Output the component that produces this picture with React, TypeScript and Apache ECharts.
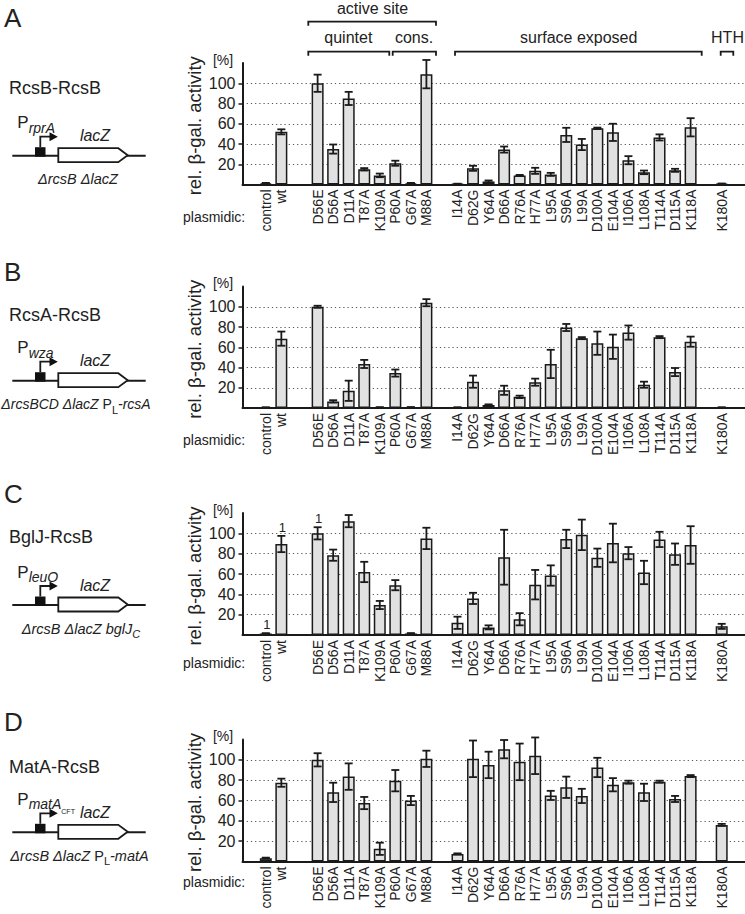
import React, { useEffect, useRef } from 'react';
import * as echarts from 'echarts';

// ---------- data ----------
const categories = ['control', 'wt', 'D56E', 'D56A', 'D11A', 'T87A', 'K109A', 'P60A', 'G67A', 'M88A',
  'I14A', 'D62G', 'Y64A', 'D66A', 'R76A', 'H77A', 'L95A', 'S96A', 'L99A', 'D100A', 'E104A', 'I106A',
  'L108A', 'T114A', 'D115A', 'K118A', 'K180A'];

const valuesA = [1.2, 52, 100, 35, 85, 15, 9, 21, 1.2, 109, 0.5, 16, 3, 34.5, 9, 13.5, 10, 49, 39.5, 55.5, 51.5, 24, 12, 46.5, 14, 56.5, 0.7];
const errorsA = [0.4, 2.5, 8.5, 4.5, 6.5, 1.2, 1.8, 2.5, 0.4, 14, 0.3, 2.5, 1, 3, 0.5, 3, 1.5, 7, 5.5, 0.7, 8.5, 4, 1.8, 3, 1.5, 9, 0.3];

const valuesB = [0.5, 68.5, 100, 6.5, 17, 43.5, 0.6, 34.5, 0.7, 104, 0.5, 26, 3, 17.5, 11, 25.5, 43.5, 79.5, 69, 64, 60.5, 74.5, 23, 70, 35.5, 65.5, 0.5];
const errorsB = [0.2, 7, 1, 1.2, 10, 4, 0.2, 3.5, 0.2, 3.5, 0.2, 6, 0.6, 4.5, 1.2, 3.5, 14, 3.5, 1, 11.5, 12, 7, 3, 1, 4, 5, 0.2];

const valuesC = [1.5, 89.5, 100, 78.5, 112, 62, 29.5, 49, 1.5, 95, 12, 36, 7.5, 76.5, 15.5, 49.5, 58.5, 94.5, 98.5, 76, 90.5, 80.5, 61.5, 94, 79.5, 88.5, 8.5];
const errorsC = [0.3, 8, 6, 5.5, 6, 10, 4, 5, 0.4, 10.5, 6, 5.5, 2, 27, 6, 14.5, 10, 9, 15, 9, 19, 6, 11.5, 7.5, 10.5, 18.5, 2.5];
const notesC: [string, string][] = [['control', '1'], ['wt', '1'], ['D56E', '1']];

const valuesD = [3.3, 77.5, 100, 68, 83.5, 57.5, 12.5, 79.5, 60, 101, 7.5, 101, 95, 110.5, 98, 104, 65, 73, 64.5, 92.5, 75.5, 78, 68, 78.5, 61.5, 84, 36];
const errorsD = [0.5, 4, 6.5, 9.5, 13, 6, 6, 10.5, 4.5, 8, 0.5, 18, 13, 9, 18, 18, 4.5, 10.5, 7, 9.5, 6.5, 1.5, 8.5, 1, 3, 1, 1];

const yTickValues = [20, 40, 60, 80, 100];

// ---------- layout ----------
const FONT = '"Liberation Sans", Arial, Helvetica, sans-serif';
const INK = '#1a1a1a';
const TXT = '#222';
const U = 15.625 / 3; // fine category unit (a third of a bar slot)
const LEAD = 4;
const gapBefore: Record<string, number> = { D56E: 7, I14A: 6, K180A: 6 };
const TOTAL = 97;
const GRID_LEFT = 242.5;

const slotIndex: number[] = [];
{
  let pos = LEAD;
  categories.forEach((c, i) => {
    if (i > 0) pos += gapBefore[c] ?? 3;
    slotIndex.push(pos);
  });
}
const axisData: string[] = Array.from({ length: TOTAL }, (_, i) => '_' + i);
categories.forEach((c, i) => { axisData[slotIndex[i]] = c; });

type Panel = {
  letter: string; letterY: number; top: number; height: number;
  title: string; titleY: number; lineY: number;
  promoter: string;
  genotype: string; genoX: number; genoSize: number;
  values: number[]; errors: number[]; notes: [string, string][];
  plasmidicY: number;
};

const richSub = {
  p: { fontSize: 17, lineHeight: 24, fontFamily: FONT, color: TXT },
  s: { fontSize: 14, lineHeight: 14, fontStyle: 'italic', verticalAlign: 'bottom', fontFamily: FONT, color: TXT },
  ss: { fontSize: 7, lineHeight: 7, verticalAlign: 'bottom', fontFamily: FONT, color: TXT, padding: [0, 0, -4, 0] },
};
function richGeno(size: number) {
  return {
    i: { fontSize: size, lineHeight: 22, fontStyle: 'italic', fontFamily: FONT, color: TXT },
    n: { fontSize: size, lineHeight: 22, fontFamily: FONT, color: TXT },
    s: { fontSize: 11, lineHeight: 11, verticalAlign: 'bottom', fontFamily: FONT, color: TXT },
    si: { fontSize: 11, lineHeight: 11, fontStyle: 'italic', verticalAlign: 'bottom', fontFamily: FONT, color: TXT },
  };
}

const panels: Panel[] = [
  { letter: 'A', letterY: 18, top: 63, height: 121.5, title: 'RcsB-RcsB', titleY: 87.7, lineY: 155.7,
    promoter: '{p|P}{s|rprA}', genotype: '{i|ΔrcsB ΔlacZ}', genoX: 78, genoSize: 14.5,
    values: valuesA, errors: errorsA, notes: [], plasmidicY: 216.7 },
  { letter: 'B', letterY: 271.5, top: 286.5, height: 121.5, title: 'RcsA-RcsB', titleY: 315, lineY: 380.7,
    promoter: '{p|P}{s|wza}', genotype: '{i|ΔrcsBCD ΔlacZ }{n|P}{s|L}{i|-rcsA}', genoX: 76, genoSize: 14,
    values: valuesB, errors: errorsB, notes: [], plasmidicY: 440 },
  { letter: 'C', letterY: 493.5, top: 513, height: 122, title: 'BglJ-RcsB', titleY: 536.7, lineY: 605,
    promoter: '{p|P}{s|leuO}', genotype: '{i|ΔrcsB ΔlacZ bglJ}{si|C}', genoX: 81, genoSize: 14.5,
    values: valuesC, errors: errorsC, notes: notesC, plasmidicY: 663 },
  { letter: 'D', letterY: 721.5, top: 739.5, height: 122, title: 'MatA-RcsB', titleY: 766.7, lineY: 832.3,
    promoter: '{p|P}{s|matA}{ss|CFT}', genotype: '{i|ΔrcsB ΔlacZ }{n|P}{s|L}{i|-matA}', genoX: 79.5, genoSize: 14.5,
    values: valuesD, errors: errorsD, notes: [], plasmidicY: 882 },
];

function txt(text: string, x: number, y: number, size: number, opts: any = {}) {
  return {
    type: 'text', x, y, rotation: opts.rotation || 0, silent: true,
    style: {
      text, x: 0, y: 0, fontSize: size, fontFamily: FONT, fill: opts.fill || TXT,
      align: opts.align || 'left', verticalAlign: opts.verticalAlign || 'middle',
      fontStyle: opts.italic ? 'italic' : 'normal',
      ...(opts.rich ? { rich: opts.rich } : {}),
    },
  };
}

function bracket(x1: number, x2: number, y: number) {
  return {
    type: 'polyline', silent: true,
    shape: { points: [[x1, y + 4], [x1, y], [x2, y], [x2, y + 4]] },
    style: { stroke: INK, lineWidth: 1.8, fill: 'none' },
  };
}

function schematic(p: Panel) {
  const L = p.lineY;
  const line = { stroke: INK, lineWidth: 2 };
  return [
    txt(p.letter, 4, p.letterY, 26),
    txt(p.title, 9, p.titleY, 18),
    { type: 'line', silent: true, shape: { x1: 12.3, y1: L, x2: 145.7, y2: L }, style: line },
    { type: 'polygon', silent: true,
      shape: { points: [[58.3, L - 7.5], [118.3, L - 7.5], [127.7, L - 0.5], [118.3, L + 6.5], [58.3, L + 6.5]] },
      style: { fill: '#fff', stroke: INK, lineWidth: 1.8 } },
    { type: 'rect', silent: true, shape: { x: 35, y: L - 8.5, width: 10.5, height: 9.5 }, style: { fill: '#111' } },
    { type: 'polyline', silent: true, shape: { points: [[40.3, L - 8.5], [40.3, L - 19], [50.5, L - 19]] },
      style: { stroke: INK, lineWidth: 1.8, fill: 'none' } },
    { type: 'polygon', silent: true, shape: { points: [[49.5, L - 23.5], [57.8, L - 19], [49.5, L - 14.5]] },
      style: { fill: '#111' } },
    txt('lacZ', 95, L - 20, 16, { align: 'center', italic: true }),
    txt(p.promoter, 17.3, L - 33, 17, { rich: richSub }),
    txt(p.genotype, p.genoX, L + 23.5, p.genoSize, { align: 'center', rich: richGeno(p.genoSize) }),
    txt('plasmidic:', 183, p.plasmidicY, 14),
    txt('[%]', 223, p.top - 3.5, 14, { align: 'center' }),
    txt('rel. β-gal. activity', 194, p.top + p.height / 2 + 2, 18.5, { align: 'center', rotation: Math.PI / 2 }),
  ];
}

const topAnnotations = [
  txt('active site', 372.5, 8, 16, { align: 'center' }),
  bracket(308.3, 436, 21.7),
  txt('quintet', 348.3, 37, 16, { align: 'center' }),
  bracket(308.3, 389.3, 51.7),
  txt('cons.', 414, 37, 16, { align: 'center' }),
  bracket(392.7, 436, 51.7),
  txt('surface exposed', 578.7, 37, 16, { align: 'center' }),
  bracket(455, 701.7, 51.7),
  txt('HTH', 727.5, 37, 16, { align: 'center' }),
  bracket(720.7, 733.3, 51.7),
];

function buildOption() {
  const grid: any[] = [];
  const xAxis: any[] = [];
  const yAxis: any[] = [];
  const series: any[] = [];
  const graphic: any[] = [...topAnnotations];

  panels.forEach((p, i) => {
    grid.push({ left: GRID_LEFT, top: p.top, width: TOTAL * U, height: p.height });
    xAxis.push({
      type: 'category', gridIndex: i, data: axisData, boundaryGap: true,
      axisLine: { lineStyle: { color: INK, width: 2 } },
      axisTick: { show: false },
      splitLine: { show: false },
      axisLabel: {
        interval: 0, rotate: 90, margin: 5, fontSize: 14, color: TXT, fontFamily: FONT,
        formatter: (v: string) => (v.charAt(0) === '_' ? '' : v),
      },
    });
    yAxis.push({
      type: 'value', gridIndex: i, min: 0, max: 120, interval: 20,
      axisLine: { show: true, lineStyle: { color: INK, width: 2 } },
      axisTick: { show: true, length: 4, lineStyle: { color: INK, width: 1.5 }, customValues: yTickValues },
      axisLabel: { customValues: yTickValues, fontSize: 16, margin: 7, color: TXT, fontFamily: FONT },
      splitLine: { show: true, lineStyle: { type: [1.2, 3], color: '#555', width: 1.2 } },
    });
    const barData: (number | null)[] = Array(TOTAL).fill(null);
    p.values.forEach((v, k) => { barData[slotIndex[k]] = v; });
    series.push({
      type: 'bar', xAxisIndex: i, yAxisIndex: i, data: barData, barWidth: 12, silent: true,
      itemStyle: { color: '#e1e1e1', borderColor: INK, borderWidth: 1.5 },
    });
    series.push({
      type: 'custom', xAxisIndex: i, yAxisIndex: i, silent: true, z: 5,
      data: categories.map((c, k) => [slotIndex[k], p.values[k], p.errors[k]]),
      encode: { x: 0, y: 1 },
      renderItem: (params: any, api: any) => {
        const idx = api.value(0);
        const v = api.value(1);
        const e = api.value(2);
        const top = api.coord([idx, v + e]);
        const bot = api.coord([idx, Math.max(0, v - e)]);
        const x = top[0];
        const hw = 4;
        const st = { stroke: INK, lineWidth: 1.8 };
        return {
          type: 'group',
          children: [
            { type: 'line', shape: { x1: x, y1: top[1], x2: x, y2: bot[1] }, style: st },
            { type: 'line', shape: { x1: x - hw, y1: top[1], x2: x + hw, y2: top[1] }, style: st },
            { type: 'line', shape: { x1: x - hw, y1: bot[1], x2: x + hw, y2: bot[1] }, style: st },
          ],
        };
      },
    });
    graphic.push(...schematic(p));
  });

  return {
    animation: false,
    backgroundColor: '#fff',
    textStyle: { fontFamily: FONT },
    grid, xAxis, yAxis, series, graphic,
  };
}

export default function App() {
  const ref = useRef<HTMLDivElement>(null);
  useEffect(() => {
    const chart = echarts.init(ref.current!, null, { renderer: 'svg' });
    const option: any = buildOption();
    chart.setOption(option);
    // annotation numbers placed above error bars through the axes' own scales
    const noteTexts: any[] = [];
    panels.forEach((p, i) => {
      p.notes.forEach(([c, t]) => {
        const k = categories.indexOf(c);
        const pt = chart.convertToPixel({ gridIndex: i } as any, [slotIndex[k], p.values[k] + p.errors[k]]) as number[];
        if (pt) noteTexts.push(txt(t, pt[0] + 1, pt[1] - 2, 13, { align: 'center', verticalAlign: 'bottom', fill: '#222' }));
      });
    });
    chart.setOption({ graphic: [...option.graphic, ...noteTexts] });
    return () => chart.dispose();
  }, []);
  return (
    <div
      ref={ref}
      style={{ position: 'absolute', left: 0, top: 0, width: 745, height: 914, background: '#fff' }}
    />
  );
}
